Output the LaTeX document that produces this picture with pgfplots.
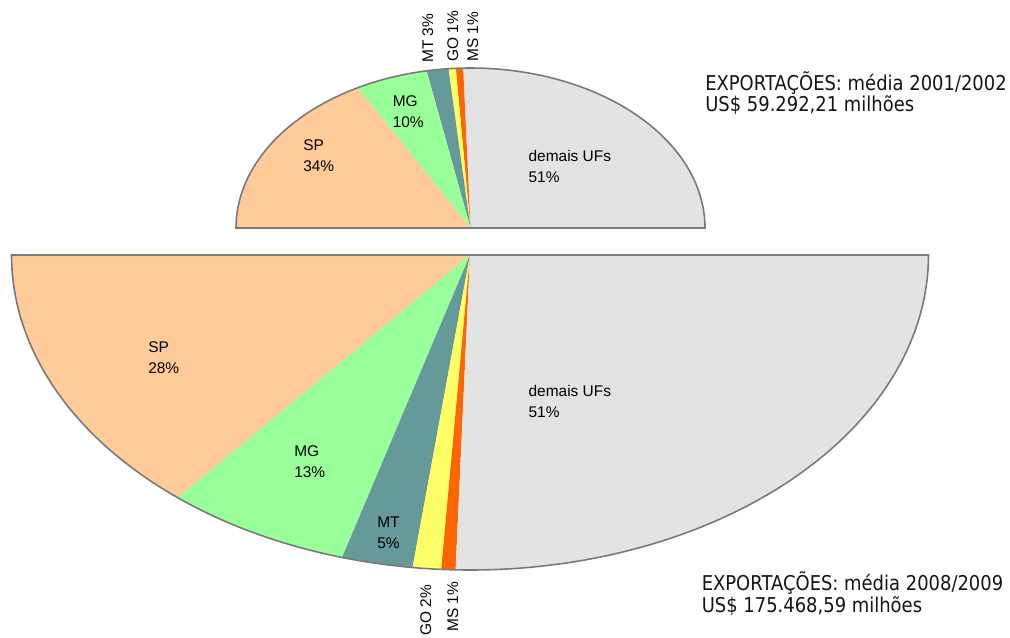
\documentclass[border=0pt]{standalone}
\usepackage{pgfplots}
\pgfplotsset{compat=1.18}
\usepackage{fontspec}
\setmainfont{Liberation Sans}
\newfontfamily\titlefont[FakeStretch=0.88]{DejaVu Sans}

\definecolor{spC}{HTML}{FFCC99}
\definecolor{mgC}{HTML}{99FF99}
\definecolor{mtC}{HTML}{669999}
\definecolor{goC}{HTML}{FFFF66}
\definecolor{msC}{HTML}{FF6600}
\definecolor{ufC}{HTML}{E3E3E3}
\definecolor{outl}{HTML}{7A7A7A}

\tikzset{
  lab/.style={inner sep=0pt, font=\fontsize{11.6}{14}\selectfont, text=black},
  ttl/.style={inner sep=0pt, font=\titlefont\fontsize{15.3}{18}\selectfont, text=black!92},
}

% one wedge of a half pie: #1 colour, #2 share in percent
% (100 percent = 180 degrees), drawn after the previous wedge
\newcommand\slice[2]{%
  \pgfmathsetmacro\tA{\start+\acc*1.8}%
  \pgfmathsetmacro\tB{\start+(\acc+#2)*1.8}%
  \pgfmathsetmacro\accnew{\acc+#2}%
  \xdef\acc{\accnew}%
  \edef\next{\noexpand\addplot[fill=#1, draw=none, domain=\tA:\tB, samples=60, variable=\noexpand\t]
    ({\cx+\rx*cos(\noexpand\t)}, {\cy-\ry*sin(\noexpand\t)}) -- (axis cs:\cx,\cy) -- cycle;}%
  \next}

% two-line label, left aligned, first baseline at (#1,#2)
\newcommand\lbl[4]{%
  \node[lab, anchor=base west] at (axis cs:#1,#2) {#3};
  \node[lab, anchor=base west] at (axis cs:#1,#2+21) {#4};}

\begin{document}
\begin{tikzpicture}
\begin{axis}[
  width=757.5pt, height=477.75pt, scale only axis,
  xmin=0, xmax=1010, ymin=0, ymax=637, y dir=reverse,
  hide axis, clip=false,
]
\path (axis cs:0,0) (axis cs:1010,637);

% ---- 2001/2002: upper half pie ----
\def\cx{470.5}\def\cy{228}\def\rx{234.5}\def\ry{160}
\def\start{0}\gdef\acc{0}
\slice{ufC}{51}
\slice{msC}{1}
\slice{goC}{1}
\slice{mtC}{3}
\slice{mgC}{10}
\slice{spC}{34}
\addplot[draw=outl, line width=1.2pt, domain=0:180, samples=150, variable=\t]
  ({470.5+234.5*cos(t)}, {228-160*sin(t)}) -- cycle;

% ---- 2008/2009: lower half pie ----
\def\cx{470}\def\cy{255}\def\rx{458.5}\def\ry{315}
\def\start{180}\gdef\acc{0}
\slice{spC}{28}
\slice{mgC}{13}
\slice{mtC}{5}
\slice{goC}{2}
\slice{msC}{1}
\slice{ufC}{51}
\addplot[draw=outl, line width=1.2pt, domain=180:360, samples=200, variable=\t]
  ({470+458.5*cos(t)}, {255-315*sin(t)}) -- cycle;

% wedge labels
\lbl{392.5}{106.5}{MG}{10\%}
\lbl{303}{150}{SP}{34\%}
\lbl{528.3}{161.7}{demais UFs}{51\%}
\lbl{148}{352}{SP}{28\%}
\lbl{294}{456.7}{MG}{13\%}
\lbl{377}{527}{MT}{5\%}
\lbl{528.3}{396.7}{demais UFs}{51\%}

\node[lab, rotate=90, anchor=base west] at (axis cs:433,63) {MT 3\%};
\node[lab, rotate=90, anchor=base west] at (axis cs:458,62) {GO 1\%};
\node[lab, rotate=90, anchor=base west] at (axis cs:478,62) {MS 1\%};
\node[lab, rotate=90, anchor=base west] at (axis cs:431,636) {GO 2\%};
\node[lab, rotate=90, anchor=base west] at (axis cs:458,632) {MS 1\%};

% titles
\node[ttl, anchor=base west] at (axis cs:705,90) {EXPORTAÇÕES: média 2001/2002};
\node[ttl, anchor=base west] at (axis cs:705,111.5) {US\$ 59.292,21 milhões};
\node[ttl, anchor=base west] at (axis cs:701.5,590.7) {EXPORTAÇÕES: média 2008/2009};
\node[ttl, anchor=base west] at (axis cs:701.5,612.7) {US\$ 175.468,59 milhões};
\end{axis}
\end{tikzpicture}
\end{document}
